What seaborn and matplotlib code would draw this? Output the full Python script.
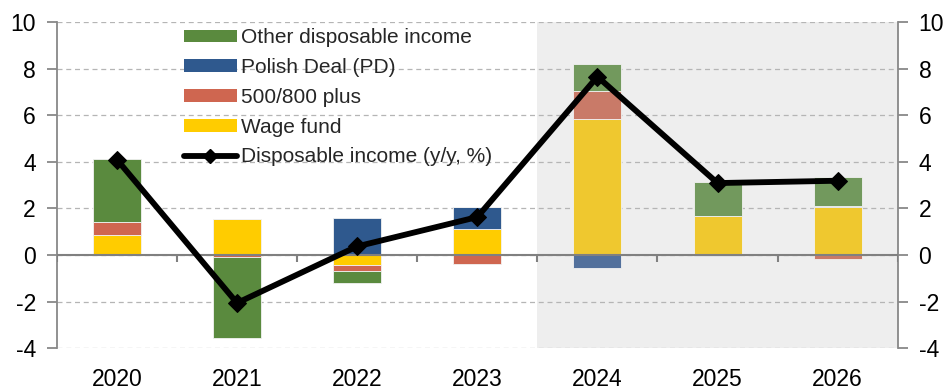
import matplotlib
matplotlib.use("Agg")
import matplotlib.pyplot as plt
from matplotlib.patches import Patch
from matplotlib.lines import Line2D
import numpy as np
import pandas as pd
import seaborn as sns

# Contributions to disposable income growth (pp) and total growth (y/y, %)
years = ["2020", "2021", "2022", "2023", "2024", "2025", "2026"]
wage_fund = [0.88, 1.53, -0.45, 1.12, 5.85, 1.69, 2.06]
plus_500_800 = [0.54, -0.07, -0.22, -0.39, 1.20, 0.00, -0.16]
polish_deal = [0.00, 0.00, 1.60, 0.94, -0.56, -0.04, 0.03]
other_income = [2.70, -3.49, -0.55, 0.00, 1.17, 1.44, 1.28]
disposable_income = [4.10, -2.06, 0.37, 1.63, 7.66, 3.09, 3.19]
forecast_from = "2024"

layer_names = ["Wage fund", "500/800 plus", "Polish Deal (PD)", "Other disposable income"]
layer_values = [wage_fund, plus_500_800, polish_deal, other_income]
hist_colors = ["#ffcc00", "#cf6650", "#2f598e", "#5a8a3e"]
fcst_colors = ["#efc82f", "#c97a68", "#52709c", "#72995d"]

sns.set_style("white")
plt.rcParams["font.family"] = ["Liberation Sans", "DejaVu Sans"]

df = pd.DataFrame({"year": years, "pos": np.arange(len(years), dtype=float)})
for name, vals in zip(layer_names, layer_values):
    df[name] = vals
df["income"] = disposable_income
df["forecast"] = df["year"] >= forecast_from

# bottoms for stacking positive and negative parts separately
pos_base = np.zeros(len(df))
neg_base = np.zeros(len(df))
bottoms = {}
for name in layer_names:
    v = df[name].to_numpy()
    b = np.where(v >= 0, pos_base, neg_base)
    bottoms[name] = b
    pos_base = pos_base + np.clip(v, 0, None)
    neg_base = neg_base + np.clip(v, None, 0)

fig, ax = plt.subplots(figsize=(9.47, 3.89), dpi=100)
fig.subplots_adjust(left=0.060, right=0.948, top=0.943, bottom=0.105)

ax.axvspan(3.5, 6.5, color="#eeeeee", zorder=0, lw=0)

for i, name in enumerate(layer_names):
    for is_fc, colors in ((False, hist_colors), (True, fcst_colors)):
        mask = (df["forecast"] == is_fc).to_numpy()
        sub = df[mask]
        sns.barplot(data=sub, x="pos", y=name, orient="x", native_scale=True,
                    width=0.4, color=colors[i], saturation=1, errorbar=None,
                    bottom=bottoms[name][mask], edgecolor="#f2f2f2",
                    linewidth=0.6, ax=ax, zorder=2)

sns.lineplot(data=df, x="pos", y="income", color="black", lw=4.2,
             marker="D", markersize=9.5, markeredgecolor="black",
             legend=False, ax=ax, zorder=5)

ax.set_xlim(-0.5, 6.5)
ax.set_ylim(-4, 10)
ax.set_xlabel("")
ax.set_ylabel("")

ax.set_yticks(np.arange(-4, 11, 2))
ax.set_yticklabels([str(v) for v in range(-4, 11, 2)])
ax.yaxis.grid(True, linestyle=(0, (4, 3)), color="#b5b5b5", lw=0.9)
ax.set_axisbelow(True)
ax.tick_params(axis="y", which="both", direction="out", length=7, width=1.3,
               color="#888888", labelsize=16.5, pad=8, left=True, right=True,
               labelleft=True, labelright=True, labelcolor="black")

ax.set_xticks(df["pos"], years)
ax.tick_params(axis="x", length=0, labelsize=16.5, pad=14, labelcolor="black")

for side in ("top", "bottom"):
    ax.spines[side].set_visible(False)
for side in ("left", "right"):
    ax.spines[side].set_visible(True)
    ax.spines[side].set_color("#888888")
    ax.spines[side].set_linewidth(1.3)

# zero line with category separator ticks
ax.axhline(0, color="#808080", lw=1.5, zorder=3)
ax.vlines(np.arange(-0.5, 6.6, 1.0), -0.3, 0, color="#808080", lw=1.5, zorder=3)

handles = [
    Patch(facecolor=hist_colors[3], edgecolor="none"),
    Patch(facecolor=hist_colors[2], edgecolor="none"),
    Patch(facecolor=hist_colors[1], edgecolor="none"),
    Patch(facecolor=hist_colors[0], edgecolor="none"),
    Line2D([], [], color="black", lw=4.2, marker="D", markersize=7),
]
labels = ["Other disposable income", "Polish Deal (PD)", "500/800 plus",
          "Wage fund", "Disposable income (y/y, %)"]
ax.legend(handles, labels, loc="upper left", bbox_to_anchor=(0.136, 1.02),
          frameon=False, fontsize=15, handlelength=2.55, handleheight=0.55,
          handletextpad=0.2, labelspacing=0.52, borderaxespad=0.2)

fig.savefig("out.png", dpi=100)
